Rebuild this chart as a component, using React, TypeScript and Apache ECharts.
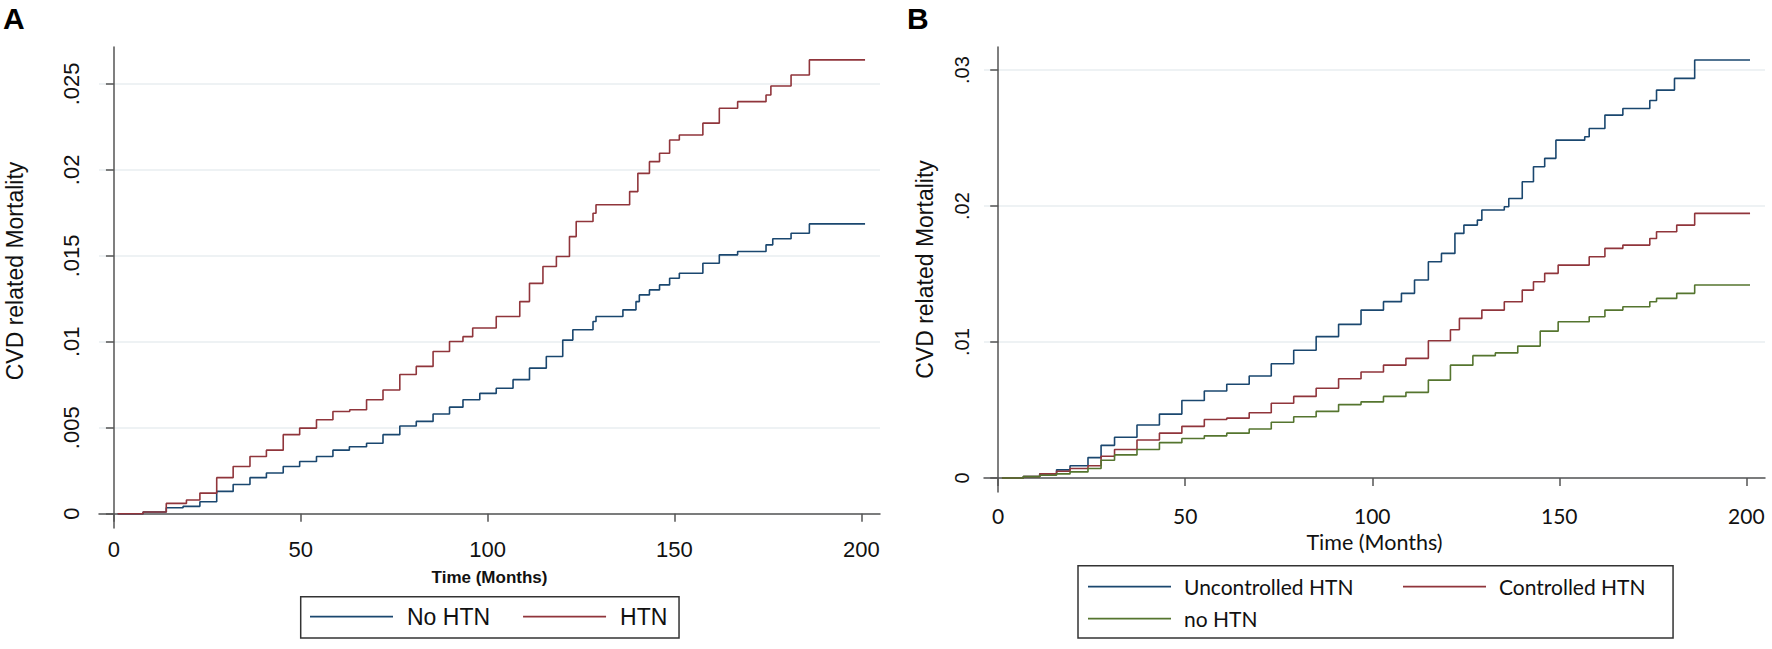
import React, { useEffect, useRef } from "react";
import * as echarts from "echarts";

// ---------- data ----------
const xTicks = [0, 50, 100, 150, 200];
const yTicksA = [0, 0.005, 0.01, 0.015, 0.02, 0.025];
const yTicksB = [0, 0.01, 0.02, 0.03];

// Panel A
const aNoHtnT = [1, 7.8, 14, 18.5, 23, 27.5, 31.9, 36.4, 40.8, 45.3, 49.7, 54.2, 58.6, 63, 67.6, 72, 76.5, 80.9, 85.4, 89.8, 93.4, 97.9, 102.3, 106.8, 111.2, 115.7, 120.1, 122.8, 128.2, 129, 136.2, 139.7, 140.6, 143.3, 146, 148.7, 151.3, 157.6, 162, 166.9, 174.5, 176.3, 181.2, 186.1, 201];
const aNoHtnV = [0, 0.0001, 0.00035, 0.00043, 0.0007, 0.0013, 0.0017, 0.0021, 0.00237, 0.00275, 0.00304, 0.00333, 0.0037, 0.0039, 0.0041, 0.0046, 0.0051, 0.00537, 0.0058, 0.0062, 0.00663, 0.007, 0.0073, 0.0078, 0.00847, 0.00915, 0.0101, 0.0107, 0.01118, 0.01147, 0.01186, 0.01234, 0.01273, 0.01302, 0.01331, 0.0137, 0.01399, 0.01457, 0.01506, 0.01525, 0.01564, 0.016, 0.01632, 0.01686, 0.01686];
const aHtnT = [1, 7.8, 14, 19.4, 23, 27.5, 31.9, 36.4, 40.8, 45.3, 49.7, 54.2, 58.6, 63.1, 67.6, 72, 76.5, 80.9, 85.4, 89.8, 93.4, 96, 102.3, 108.6, 111.2, 114.8, 118.4, 121.9, 123.7, 128.2, 129, 138, 140.2, 143.3, 146, 148.7, 151.3, 157.6, 162, 166.9, 174.5, 175.8, 181.2, 186.1, 201];
const aHtnV = [0, 0.0001, 0.0006, 0.0008, 0.0012, 0.0021, 0.00275, 0.00333, 0.0037, 0.0046, 0.00498, 0.00547, 0.00595, 0.00605, 0.00663, 0.0072, 0.0081, 0.00857, 0.00944, 0.01002, 0.0103, 0.0108, 0.01147, 0.01234, 0.0134, 0.01438, 0.01496, 0.01612, 0.017, 0.01748, 0.01797, 0.01874, 0.0198, 0.02048, 0.02097, 0.02174, 0.02203, 0.02272, 0.02359, 0.02397, 0.02436, 0.02488, 0.02552, 0.0264, 0.0264];

// Panel B
const bUncT = [1, 6.7, 11.1, 15.6, 19.2, 24, 27.5, 31.1, 37.1, 43.1, 49.1, 55.1, 61.1, 67.1, 73, 79, 85, 91, 97, 103, 107.8, 111.3, 115, 118.5, 122.1, 124.5, 128.1, 129.3, 135.3, 136.5, 140.1, 143.1, 146.1, 149.1, 156.8, 158, 162.2, 167, 174.2, 176, 180.8, 186.2, 201];
const bUncV = [0, 0.0001, 0.0003, 0.0006, 0.0009, 0.0015, 0.0024, 0.003, 0.0039, 0.0047, 0.0057, 0.0064, 0.0069, 0.0075, 0.0084, 0.0094, 0.0104, 0.0113, 0.01235, 0.01297, 0.01358, 0.01456, 0.0159, 0.01652, 0.01799, 0.0186, 0.01897, 0.01971, 0.01995, 0.02056, 0.02179, 0.02289, 0.02351, 0.02485, 0.0251, 0.02571, 0.02669, 0.02718, 0.02776, 0.02853, 0.02939, 0.03074, 0.03074];
const bCtlT = [1, 6.7, 11.1, 15.6, 19.2, 24, 27.5, 31.1, 37.1, 43.1, 49.1, 55.1, 61.1, 67.1, 73, 79, 85, 91, 97, 103, 109, 115, 120.9, 123.3, 129.3, 135.3, 140.1, 143.1, 146.1, 149.7, 158, 162.2, 167, 174.2, 176, 181.4, 186.2, 201];
const bCtlV = [0, 0.0001, 0.0003, 0.0005, 0.0007, 0.0009, 0.0016, 0.0021, 0.0028, 0.0033, 0.0038, 0.0043, 0.0044, 0.0048, 0.0055, 0.006, 0.0066, 0.0073, 0.0078, 0.0083, 0.0088, 0.0101, 0.0109, 0.01174, 0.01235, 0.01296, 0.01382, 0.01443, 0.01505, 0.01566, 0.01627, 0.01689, 0.01713, 0.01762, 0.01811, 0.0186, 0.01946, 0.01946];
const bNoT = [1, 6.7, 11.1, 15.6, 19.2, 24, 27.5, 31.1, 37.1, 43.1, 49.1, 55.1, 61.1, 67.1, 73, 79, 85, 91, 97, 103, 109, 115, 120.9, 126.9, 132.9, 138.9, 144.9, 149.7, 158, 162.2, 167, 174.2, 176, 181.4, 186.2, 201];
const bNoV = [0, 0.0001, 0.0002, 0.0003, 0.00045, 0.0007, 0.0013, 0.0017, 0.0021, 0.0026, 0.0029, 0.0031, 0.0033, 0.0036, 0.0041, 0.0045, 0.0049, 0.0054, 0.0056, 0.006, 0.0063, 0.0072, 0.0083, 0.009, 0.0092, 0.0097, 0.0108, 0.01149, 0.01186, 0.01235, 0.0126, 0.01296, 0.01321, 0.01358, 0.01419, 0.01419];

const NAVY = "#1a476f";
const MAROON = "#90353b";
const GREEN = "#55752f";
const AXIS = "#555555";
const GRID = "#e8eef0";
const ARIAL = "'Liberation Sans', Arial, Helvetica, sans-serif";
const HUMAN = "Lato, 'Open Sans', sans-serif";

const zip = (t: number[], v: number[]) => t.map((x, i) => [x, v[i]]);
const fmtY = (v: number) => (v === 0 ? "0" : String(+v.toFixed(4)).replace(/^0/, ""));

export default function App() {
  const ref = useRef<HTMLDivElement>(null);
  useEffect(() => {
    document.body.style.margin = "0";
    const chart = echarts.init(ref.current!, undefined, { renderer: "svg" });
    const lineSeries = (name: string, t: number[], v: number[], color: string, idx: number) => ({
      name,
      type: "line",
      xAxisIndex: idx,
      yAxisIndex: idx,
      step: "end",
      symbol: "none",
      data: zip(t, v),
      color,
      lineStyle: { color, width: 1.6 },
      emphasis: { disabled: true },
    });
    const xAxisBase = (idx: number, font: string, size: number, margin: number, nameGap: number, nameStyle: any, min: number) => ({
      type: "value",
      gridIndex: idx,
      min,
      max: 205,
      name: "Time (Months)",
      nameLocation: "middle",
      nameGap,
      nameTextStyle: nameStyle,
      axisLine: { show: true, lineStyle: { color: AXIS, width: 1.5 } },
      axisTick: { show: true, length: 8, customValues: xTicks, lineStyle: { color: AXIS, width: 1.5 } },
      axisLabel: { customValues: xTicks, margin, color: "#111", fontFamily: font, fontSize: size },
      splitLine: { show: false },
    });
    const yAxisBase = (idx: number, ticks: number[], min: number, max: number, size: number, margin: number, nameGap: number, namePad: number[]) => ({
      type: "value",
      gridIndex: idx,
      min,
      max,
      name: "CVD related Mortality",
      nameLocation: "middle",
      nameGap,
      nameTextStyle: { fontFamily: ARIAL, fontSize: 23, color: "#111", padding: namePad },
      axisLine: { show: true, lineStyle: { color: AXIS, width: 1.5 } },
      axisTick: { show: true, length: 8, customValues: ticks, lineStyle: { color: AXIS, width: 1.5 } },
      axisLabel: { customValues: ticks, rotate: 90, margin, color: "#111", fontFamily: ARIAL, fontSize: size, formatter: fmtY },
      splitLine: { show: true, lineStyle: { color: GRID, width: 1.5 } },
    });

    chart.setOption({
      animation: false,
      backgroundColor: "#ffffff",
      grid: [
        { left: 99, top: 47, width: 781, height: 481 },
        { left: 984, top: 47, width: 781, height: 445 },
      ],
      xAxis: [
        xAxisBase(0, ARIAL, 22, 10, 41, { fontFamily: ARIAL, fontSize: 17, fontWeight: "bold", color: "#111" }, -4),
        xAxisBase(1, HUMAN, 21, 13, 36, { fontFamily: HUMAN, fontSize: 21.5, color: "#111" }, -3.8),
      ],
      yAxis: [
        yAxisBase(0, yTicksA, -0.00083, 0.02715, 22, 17, 73, [0, 0, 0, 33]),
        yAxisBase(1, yTicksB, -0.00103, 0.0317, 20, 12, 48, [0, 0, 0, 0]),
      ],
      legend: [
        {
          left: 300.7,
          top: 596.7,
          orient: "horizontal",
          data: ["No HTN", "HTN"],
          icon: "rect",
          itemWidth: 83,
          itemHeight: 1.8,
          itemGap: 33,
          padding: [8, 11.7, 9.3, 9.3],
          borderColor: "#333",
          borderWidth: 1.5,
          selectedMode: false,
          textStyle: { fontFamily: ARIAL, fontSize: 23, color: "#111", lineHeight: 24, padding: [0, 0, 0, 9] },
        },
        {
          left: 1078,
          top: 565.7,
          width: 600,
          orient: "horizontal",
          data: ["Uncontrolled HTN", "Controlled HTN", "no HTN"],
          icon: "rect",
          itemWidth: 83,
          itemHeight: 1.8,
          itemGap: 8,
          padding: [9, 27.5, 7.4, 10],
          borderColor: "#333",
          borderWidth: 1.5,
          selectedMode: false,
          formatter: (name: string) => (name === "Uncontrolled HTN" ? "{a|" + name + "}" : "{b|" + name + "}"),
          textStyle: {
            fontFamily: HUMAN,
            fontSize: 21,
            color: "#111",
            lineHeight: 24,
            rich: {
              a: { fontFamily: HUMAN, fontSize: 21, color: "#111", lineHeight: 24, width: 211, padding: [0, 0, 0, 8] },
              b: { fontFamily: HUMAN, fontSize: 21, color: "#111", lineHeight: 24, padding: [0, 0, 0, 8] },
            },
          },
        },
      ],
      graphic: [
        { type: "text", left: 3, top: 3, style: { text: "A", font: "bold 30px " + ARIAL, fill: "#000" } },
        { type: "text", left: 907, top: 3, style: { text: "B", font: "bold 30px " + ARIAL, fill: "#000" } },
      ],
      series: [
        lineSeries("No HTN", aNoHtnT, aNoHtnV, NAVY, 0),
        lineSeries("HTN", aHtnT, aHtnV, MAROON, 0),
        lineSeries("Uncontrolled HTN", bUncT, bUncV, NAVY, 1),
        lineSeries("Controlled HTN", bCtlT, bCtlV, MAROON, 1),
        lineSeries("no HTN", bNoT, bNoV, GREEN, 1),
      ],
    });
    return () => chart.dispose();
  }, []);
  return <div ref={ref} style={{ width: 1772, height: 649 }} />;
}
